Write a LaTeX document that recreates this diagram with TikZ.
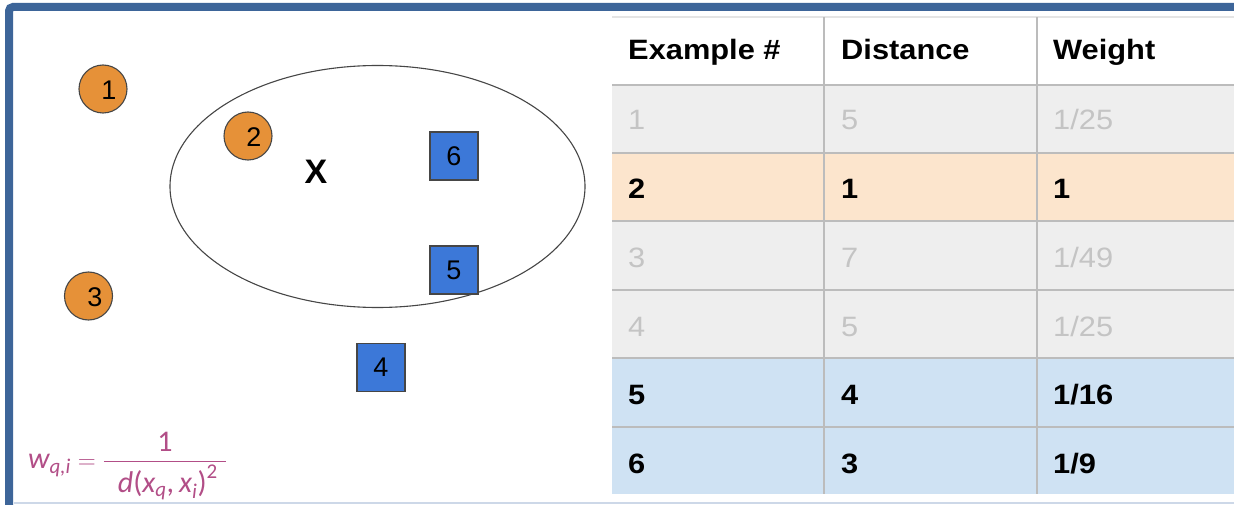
\documentclass[tikz,border=0pt]{standalone}
\usepackage{amsmath}
\usepackage{fontspec}
\setmainfont{Liberation Sans}
\newfontfamily\tablefont[FakeStretch=1.1]{Liberation Sans}
\newfontfamily\formfont{Carlito}
\usetikzlibrary{shapes.geometric}

\definecolor{frameblue}{RGB}{61,101,153}
\definecolor{framelight}{RGB}{205,216,232}
\definecolor{dotorange}{RGB}{230,145,56}
\definecolor{boxblue}{RGB}{60,120,216}
\definecolor{shapeedge}{RGB}{70,70,70}
\definecolor{rowgray}{RGB}{238,238,238}
\definecolor{roworange}{RGB}{252,229,205}
\definecolor{rowblue}{RGB}{207,226,243}
\definecolor{gridgray}{RGB}{188,188,188}
\definecolor{toplinegray}{RGB}{228,228,228}
\definecolor{fadedtext}{RGB}{196,196,196}
\definecolor{formcolor}{RGB}{178,78,135}

% pieces of the weight formula
\newcommand{\formvar}[1]{\text{\formfont\itshape #1}}
\newcommand{\formup}[1]{\text{\formfont #1}}

\begin{document}
\begin{tikzpicture}[x=1pt,y=-1pt,
  dot/.style={circle,draw=shapeedge,line width=1.1pt,fill=dotorange,
    minimum size=48pt,inner sep=0pt},
  sq/.style={rectangle,draw=shapeedge,line width=1.1pt,fill=boxblue,
    minimum size=48pt,inner sep=0pt,
    font=\fontsize{27}{30}\selectfont},
  digit/.style={font=\fontsize{27}{30}\selectfont,inner sep=0pt},
  headcell/.style={anchor=base west,inner sep=0pt,
    font=\tablefont\bfseries\fontsize{28}{32}\selectfont},
  boldcell/.style={anchor=base west,inner sep=0pt,
    font=\tablefont\bfseries\fontsize{28}{32}\selectfont},
  fadecell/.style={anchor=base west,inner sep=0pt,text=fadedtext,
    font=\tablefont\fontsize{28}{32}\selectfont},
  grid/.style={draw=gridgray,line width=2.2pt}]
\useasboundingbox (0,0) rectangle (1234,505);
\fill[white] (0,0) rectangle (1234,505);

% frame
\draw[framelight,line width=2pt] (14,503) -- (1240,503);
\draw[frameblue,line width=8pt,rounded corners=4pt] (9,515) -- (9,7) -- (1245,7);

% ---------- left: query point and neighbourhood ----------
\node[ellipse,draw=shapeedge,line width=1.1pt,minimum width=415pt,
  minimum height=242pt,inner sep=0pt] (region) at (377.5,186.5) {};

\node[dot] (p1) at (103,89) {};
\node[digit] (l1) at (109,90) {1};
\node[dot] (p2) at (248,136) {};
\node[digit] (l2) at (254,137) {2};
\node[dot] (p3) at (88.5,296) {};
\node[digit] (l3) at (95,297) {3};

\node[sq] (p6) at (454,156) {6};
\node[sq] (p5) at (454,270) {5};
\node[sq] (p4) at (381,367.5) {4};

\node[font=\bfseries\fontsize{34}{36}\selectfont,inner sep=0pt] (q) at (316,172) {X};

% weight formula
\node[anchor=base west,inner sep=0pt,text=formcolor,
  font=\fontsize{30}{34}\selectfont] (wf) at (28,468)
  {$\displaystyle \formvar{w}_{\formvar{q,i}} =
   \frac{\formup{1}}{\hspace{14pt}\formvar{d}\formup{(}\formvar{x}_{\formvar{q}}\formup{,\,}\formvar{x}_{\formvar{i}}\formup{)}^{\formup{2}}\hspace{8pt}}$};

% ---------- right: table ----------
\fill[rowgray]   (612,84)  rectangle (1234,153);
\fill[roworange] (612,153) rectangle (1234,221);
\fill[rowgray]   (612,221) rectangle (1234,358);
\fill[rowblue]   (612,358) rectangle (1234,494);

\draw[toplinegray,line width=2pt] (612,17) -- (1234,17);
\foreach \yy in {85,153,221,290,358,427}
  \draw[grid] (612,\yy) -- (1234,\yy);
\draw[grid,line width=2pt] (824,17) -- (824,494);
\draw[grid,line width=2pt] (1036.5,17) -- (1036.5,494);

\node[headcell] (h1) at (628,60) {Example \#};
\node[headcell] (h2) at (841,60) {Distance};
\node[headcell] (h3) at (1053,60) {Weight};

\node[fadecell] (a1) at (628,130) {1};
\node[fadecell] (a2) at (841,130) {5};
\node[fadecell] (a3) at (1053,130) {1/25};

\node[boldcell] (b1) at (628,199) {2};
\node[boldcell] (b2) at (841,199) {1};
\node[boldcell] (b3) at (1053,199) {1};

\node[fadecell] (c1) at (628,267) {3};
\node[fadecell] (c2) at (841,267) {7};
\node[fadecell] (c3) at (1053,267) {1/49};

\node[fadecell] (d1) at (628,336) {4};
\node[fadecell] (d2) at (841,336) {5};
\node[fadecell] (d3) at (1053,336) {1/25};

\node[boldcell] (e1) at (628,404) {5};
\node[boldcell] (e2) at (841,404) {4};
\node[boldcell] (e3) at (1053,404) {1/16};

\node[boldcell] (f1) at (628,473) {6};
\node[boldcell] (f2) at (841,473) {3};
\node[boldcell] (f3) at (1053,473) {1/9};
\end{tikzpicture}
\end{document}
